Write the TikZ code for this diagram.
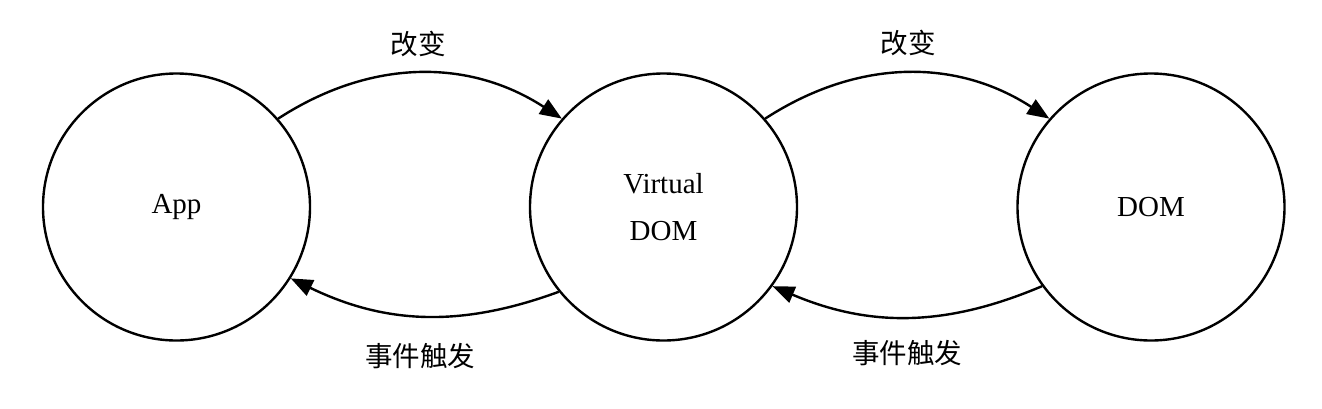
\documentclass[tikz,border=0pt]{standalone}
\usepackage{fontspec}
\setmainfont{Liberation Serif}
\newfontfamily\cjk{Noto Sans CJK SC}
\usetikzlibrary{arrows.meta}
\begin{document}
\begin{tikzpicture}[x=1pt,y=-1pt,
  state/.style={circle,draw,line width=2.4pt,minimum size=267pt,inner sep=0pt,align=center,
    font=\fontsize{29}{47}\selectfont},
  lbl/.style={font=\cjk\fontsize{27.5}{30}\selectfont,inner sep=0pt},
  conn/.style={line width=2.4pt,-{Triangle[length=22pt,width=17pt]}}]
\useasboundingbox (0,0) rectangle (1322,408);
\node[state] (app) at (176.5,207) {App};
\node[state] (vdom) at (663.5,207) {Virtual\\DOM};
\node[state] (dom) at (1151,207) {DOM};
\draw[conn] (app.41) to[bend left=33] (vdom.139);
\draw[conn] (vdom.41) to[bend left=33] (dom.139);
\draw[conn] (vdom.-141) to[bend left=23] (app.-32.5);
\draw[conn] (dom.-144.5) to[bend left=23] (vdom.-36);
\node[lbl] (l1) at (418,44) {改变};
\node[lbl] (l2) at (908,43) {改变};
\node[lbl] (l3) at (420,356) {事件触发};
\node[lbl] (l4) at (907,353) {事件触发};
\end{tikzpicture}
\end{document}
